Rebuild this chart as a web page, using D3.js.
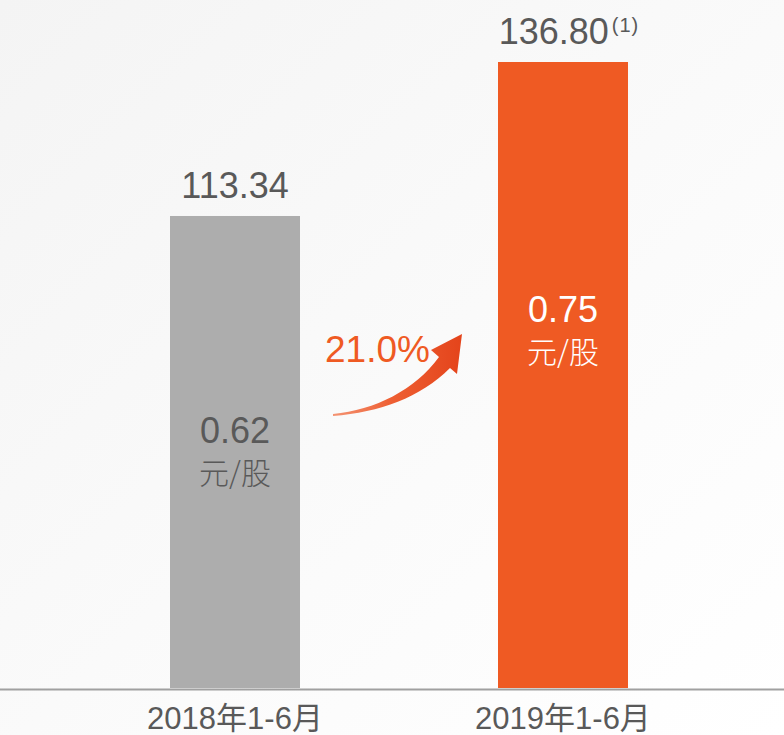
<!DOCTYPE html>
<html>
<head>
<meta charset="utf-8">
<script src="https://cdn.jsdelivr.net/npm/d3@7"></script>
<style>
  body { margin: 0; background: #fff; }
  text { font-family: "Liberation Sans", Arial, "Noto Sans CJK SC", sans-serif; }
</style>
</head>
<body>
<div id="chart"></div>
<script>
const width = 784;
const height = 735;

// data
const periods = ["2018年1-6月", "2019年1-6月"];
const revenue = [113.34, 136.80];
const revenueNotes = ["", "(1)"];
const perShare = [0.62, 0.75];
const perShareUnit = "元/股";
const growth = "21.0%";

const barColors = ["#adadad", "#ef5a23"];
const innerTextColors = ["#595959", "#ffffff"];
// where the per-share label sits, as a distance below the bar top
const innerOffsets = [227, 260];

const baseY = 688;

let svg = d3.select("#chart")
    .append("svg")
    .attr("width", width)
    .attr("height", height);

// soft grey background
const defs = svg.append("defs");
const bg = defs.append("linearGradient")
    .attr("id", "bg")
    .attr("x1", "0").attr("y1", "0")
    .attr("x2", "1").attr("y2", "1");
bg.append("stop").attr("offset", "0").attr("stop-color", "#f4f4f4");
bg.append("stop").attr("offset", "0.6").attr("stop-color", "#fbfbfb");
bg.append("stop").attr("offset", "1").attr("stop-color", "#ffffff");

const arrowGrad = defs.append("linearGradient")
    .attr("id", "arrowGrad")
    .attr("x1", "0").attr("y1", "0.5")
    .attr("x2", "1").attr("y2", "0.5");
arrowGrad.append("stop").attr("offset", "0").attr("stop-color", "#f49473");
arrowGrad.append("stop").attr("offset", "0.45").attr("stop-color", "#ee5f33");
arrowGrad.append("stop").attr("offset", "1").attr("stop-color", "#e4441b");

svg.append("rect")
    .attr("width", width)
    .attr("height", height)
    .attr("fill", "url(#bg)");

//scales
const x = d3.scaleBand()
    .domain(periods)
    .range([-28, 826])
    .padding(0.6037);

// original chart's value axis does not start at zero
const y = d3.scaleLinear()
    .domain([41.43, 136.80])
    .range([baseY, 62]);

//bars
svg.selectAll(".bar")
    .data(revenue)
    .enter()
    .append("rect")
    .attr("class", "bar")
    .attr("x", (d, i) => x(periods[i]))
    .attr("width", x.bandwidth())
    .attr("y", d => y(d))
    .attr("height", d => baseY - y(d))
    .attr("fill", (d, i) => barColors[i]);

//axis with category labels
let xAxis = svg.append("g")
    .attr("transform", "translate(0," + (baseY + 1) + ")")
    .call(d3.axisBottom(x).tickSize(0).tickSizeOuter(0));

xAxis.select(".domain")
    .attr("stroke", "#a0a0a0")
    .attr("stroke-width", 2);

xAxis.selectAll("text")
    .attr("y", 40)
    .attr("dy", 0)
    .attr("fill", "#595959")
    .style("font-size", "31px")
    .style("font-family", "\"Liberation Sans\", Arial, \"Noto Sans CJK SC\", sans-serif");

//value labels on top
const topLabels = svg.selectAll(".top-label")
    .data(revenue)
    .enter()
    .append("text")
    .attr("class", "top-label")
    .attr("x", (d, i) => x(periods[i]) + x.bandwidth() / 2 + (revenueNotes[i] ? 6 : 0))
    .attr("y", d => y(d) - 18)
    .attr("text-anchor", "middle")
    .attr("fill", "#595959")
    .style("font-size", "36px");

topLabels.append("tspan")
    .text(d => d.toFixed(2));

topLabels.append("tspan")
    .attr("dx", 3)
    .attr("dy", -12)
    .style("font-size", "20px")
    .style("letter-spacing", "1px")
    .text((d, i) => revenueNotes[i]);

//per share labels inside bars
svg.selectAll(".inner-value")
    .data(perShare)
    .enter()
    .append("text")
    .attr("class", "inner-value")
    .attr("x", (d, i) => x(periods[i]) + x.bandwidth() / 2)
    .attr("y", (d, i) => y(revenue[i]) + innerOffsets[i])
    .attr("text-anchor", "middle")
    .attr("fill", (d, i) => innerTextColors[i])
    .style("font-size", "36px")
    .text(d => d.toFixed(2));

svg.selectAll(".inner-unit")
    .data(perShare)
    .enter()
    .append("text")
    .attr("class", "inner-unit")
    .attr("x", (d, i) => x(periods[i]) + x.bandwidth() / 2)
    .attr("y", (d, i) => y(revenue[i]) + innerOffsets[i] + 41)
    .attr("text-anchor", "middle")
    .attr("fill", (d, i) => innerTextColors[i])
    .style("font-size", "30px")
    .style("font-family", "\"Noto Sans CJK SC\", sans-serif")
    .style("font-weight", 300)
    .text(perShareUnit);

//growth arrow between the bars
const gap0 = x(periods[0]) + x.bandwidth();
let arrow = svg.append("g")
    .attr("transform", "translate(" + gap0 + ",0)");

arrow.append("path")
    .attr("d", "M33,414 C75,410 115,390 139,357 L131,350 L162,334 L157,374 L150,368 C120,398 80,412 33,416 Z")
    .attr("fill", "url(#arrowGrad)");

arrow.append("text")
    .attr("x", 25)
    .attr("y", 362)
    .attr("fill", "#ef5a23")
    .style("font-size", "37px")
    .text(growth);
</script>
</body>
</html>
